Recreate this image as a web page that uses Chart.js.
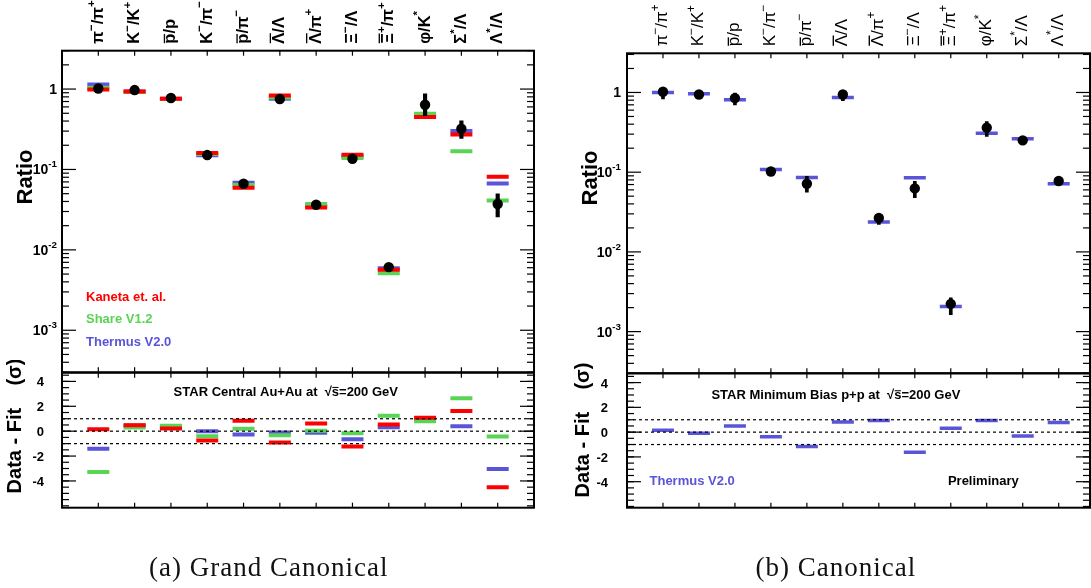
<!DOCTYPE html>
<html>
<head>
<meta charset="utf-8">
<script src="https://cdn.jsdelivr.net/npm/chart.js@4.4.1/dist/chart.umd.min.js"></script>
<style>
  body { margin: 0; background: #fff; width: 1091px; height: 588px; overflow: hidden; position: relative; }
  canvas { position: absolute; }
</style>
</head>
<body>
<canvas id="gcTop"></canvas>
<canvas id="gcDev"></canvas>
<canvas id="cTop"></canvas>
<canvas id="cDev"></canvas>
<script>
// particle ratios, ROOT-style markup: ^{..} superscript, #bar{..} overline
const categories = ['π^{−}/π^{+}', 'K^{−}/K^{+}', '#bar{p}/p', 'K^{−}/π^{−}', '#bar{p}/π^{−}', '#bar{Λ}/Λ',
  '#bar{Λ}/π^{+}', 'Ξ^{−}/Λ', '#bar{Ξ}^{+}/π^{+}', 'φ/K^{*}', 'Σ^{*}/Λ', 'Λ^{*}/Λ'];

// (a) Grand canonical, STAR central Au+Au
const gcData = [1.017, 0.972, 0.773, 0.151, 0.0664, 0.751, 0.0364, 0.136, 0.0061, 0.638, 0.321, 0.0372];
const gcErrLow = [0.97, 0.93, 0.74, 0.145, 0.063, 0.72, 0.034, 0.130, 0.0058, 0.466, 0.243, 0.0256];
const gcErrHigh = [1.06, 1.01, 0.81, 0.158, 0.070, 0.78, 0.039, 0.143, 0.0064, 0.874, 0.404, 0.0496];
const gcKaneta = [0.986, 0.934, 0.757, 0.160, 0.0591, 0.833, 0.0337, 0.152, 0.00566, 0.449, 0.272, 0.0813];
const gcShare = [1.038, 0.920, 0.750, 0.156, 0.0641, 0.786, 0.0371, 0.139, 0.0051, 0.493, 0.168, 0.0411];
const gcThermus = [1.14, 0.930, 0.755, 0.150, 0.0683, 0.757, 0.0357, 0.145, 0.0059, 0.470, 0.300, 0.0670];
const gcKanetaDev = [0.16, 0.48, 0.21, -0.75, 0.83, -0.90, 0.61, -1.23, 0.53, 1.07, 1.63, -4.50];
const gcShareDev = [-3.28, 0.29, 0.43, -0.40, 0.19, -0.32, 0.03, -0.16, 1.25, 0.80, 2.64, -0.43];
const gcThermusDev = [-1.41, 0.45, 0.30, 0.00, -0.27, -0.10, -0.13, -0.64, 0.32, 1.00, 0.40, -3.04];

// (b) Canonical, STAR minimum bias p+p
const cData = [1.02, 0.944, 0.85, 0.102, 0.0717, 0.944, 0.0266, 0.0626, 0.00223, 0.362, 0.251, 0.0776];
const cErrLow = [0.83, 0.90, 0.70, 0.095, 0.056, 0.79, 0.0221, 0.048, 0.00163, 0.28, 0.24, 0.072];
const cErrHigh = [1.12, 0.99, 0.98, 0.110, 0.089, 1.05, 0.0296, 0.077, 0.00266, 0.43, 0.262, 0.083];
const cThermus = [1.00, 0.963, 0.81, 0.108, 0.0858, 0.866, 0.0237, 0.0852, 0.00206, 0.307, 0.263, 0.0714];
const cThermusDev = [0.16, -0.08, 0.49, -0.38, -1.16, 0.81, 0.94, -1.62, 0.32, 0.94, -0.32, 0.78];

// axes
const logMajor = [1e-3, 1e-2, 1e-1, 1];
const logLabels = ['10^{-3}', '10^{-2}', '10^{-1}', '1'];
const devMajor = [-4, -2, 0, 2, 4];
const devLabels = ['-4', '-2', '0', '2', '4'];
const devBands = [1, 0, -1];

const FONT = '"Liberation Sans", Arial, Helvetica, sans-serif';
const RED = '#ff0000', GREEN = '#59d454', BLUE = '#5954d8';
const positions = categories.map((c, i) => i + 1);

const logMinor = [];
for (let d = -4; d <= 0; d++) {
  for (let k = 2; k <= 9; k++) logMinor.push(k * Math.pow(10, d));
}
const devMinor = [];
for (let v = -6; v <= 4.5; v += 0.5) devMinor.push(v);

function parseRich(str) {
  const segs = [];
  let buf = '';
  let i = 0;
  const flush = () => { if (buf) { segs.push({ t: buf }); buf = ''; } };
  while (i < str.length) {
    if (str.startsWith('#bar{', i)) {
      flush();
      const j = str.indexOf('}', i);
      segs.push({ t: str.slice(i + 5, j), bar: true });
      i = j + 1;
    } else if (str.startsWith('^{', i)) {
      flush();
      const j = str.indexOf('}', i);
      segs.push({ t: str.slice(i + 2, j), sup: true });
      i = j + 1;
    } else {
      buf += str[i];
      i++;
    }
  }
  flush();
  return segs;
}

function drawRich(ctx, str, x, y, o) {
  const segs = parseRich(str);
  const family = o.family || FONT;
  const weight = o.weight || 'normal';
  const supSize = o.size * 0.7;
  const font = s => weight + ' ' + (s.sup ? supSize : o.size) + 'px ' + family;
  ctx.save();
  ctx.letterSpacing = o.spacing || '0px';
  let w = 0;
  segs.forEach(s => { ctx.font = font(s); s.w = ctx.measureText(s.t).width; w += s.w; });
  ctx.translate(x, y);
  if (o.rotate) ctx.rotate(-Math.PI / 2);
  let cx = o.align === 'right' ? -w : o.align === 'center' ? -w / 2 : 0;
  ctx.fillStyle = ctx.strokeStyle = o.color || '#000';
  ctx.textAlign = 'left';
  ctx.textBaseline = 'alphabetic';
  segs.forEach(s => {
    ctx.font = font(s);
    const dy = s.sup ? -o.size * (o.raise || 0.45) : 0;
    ctx.fillText(s.t, cx, dy);
    if (s.bar) {
      const m = ctx.measureText(s.t);
      const by = dy - m.actualBoundingBoxAscent - o.size * 0.12;
      ctx.lineWidth = Math.max(1, o.size * 0.08);
      ctx.beginPath();
      ctx.moveTo(cx + 0.5, by);
      ctx.lineTo(cx + s.w - 0.5, by);
      ctx.stroke();
    }
    cx += s.w;
  });
  ctx.restore();
}

// frame, inward ticks, tick labels and texts drawn in ROOT fashion
const rootFrame = {
  id: 'rootFrame',
  afterDraw(chart, args, opts) {
    const { ctx, chartArea: a, scales: { x, y } } = chart;
    const seg = (x1, y1, x2, y2) => { ctx.beginPath(); ctx.moveTo(x1, y1); ctx.lineTo(x2, y2); ctx.stroke(); };
    ctx.save();
    ctx.strokeStyle = '#000';
    ctx.lineWidth = 1.2;
    const yTick = (v, len) => {
      if (v < y.min || v > y.max) return;
      const py = y.getPixelForValue(v);
      seg(a.left, py, a.left + len, py);
      seg(a.right, py, a.right - len, py);
    };
    opts.yMinor.forEach(v => yTick(v, 7));
    opts.yMajor.forEach(v => yTick(v, 14));
    positions.forEach(v => {
      const px = x.getPixelForValue(v);
      seg(px, a.top, px, a.top + 5);
      seg(px, a.bottom, px, a.bottom - 5);
    });
    ctx.lineWidth = 2;
    ctx.strokeRect(a.left, a.top, a.right - a.left, a.bottom - a.top);
    ctx.restore();

    opts.yMajor.forEach((v, i) => {
      const py = y.getPixelForValue(v);
      drawRich(ctx, opts.yLabels[i], a.left - opts.labelGap, py + 5, { size: opts.labelSize, weight: 'bold', align: 'right', raise: 0.5 });
    });
    const t = opts.title;
    drawRich(ctx, t.text, t.x, t.y, { size: t.size, weight: 'bold', align: 'center', rotate: true });
    if (opts.categoryLabels) {
      const c = opts.categoryLabels;
      categories.forEach((label, i) => {
        const px = x.getPixelForValue(positions[i]);
        drawRich(ctx, label, px + 4.5, a.top - 7, { size: c.size, weight: c.weight, rotate: true, raise: 0.5 });
      });
    }
    (opts.notes || []).forEach(n => drawRich(ctx, n.text, n.x, n.y, n));
  }
};

function points(values) {
  return values.map((v, i) => ({ x: positions[i], y: v }));
}

function modelSet(values, color, order, width) {
  return {
    type: 'scatter', data: points(values), order,
    pointStyle: 'line', pointRadius: 11, pointHoverRadius: 11,
    borderWidth: width, borderColor: color, backgroundColor: color,
  };
}

function ratioSets(data, lo, hi, models, barWidth) {
  const sets = [
    { type: 'scatter', data: points(data), order: 0, pointRadius: 5.2, backgroundColor: '#000', borderWidth: 0 },
    { type: 'bar', data: lo.map((v, i) => ({ x: positions[i], y: [v, hi[i]] })), order: 1, backgroundColor: '#000', barThickness: barWidth },
  ];
  models.forEach((m, k) => sets.push(modelSet(m.values, m.color, 2 + k, m.width)));
  return sets;
}

function devSets(models, xMax) {
  const sets = devBands.map(v => ({
    type: 'line', data: [{ x: 0, y: v }, { x: xMax, y: v }], order: 0,
    borderColor: '#000', borderWidth: 1.2, borderDash: [3, 3], pointRadius: 0, fill: false,
  }));
  models.forEach((m, k) => sets.push(modelSet(m.values, m.color, 2 + k, m.width)));
  return sets;
}

function makeChart(id, box, padding, xMax, yScale, datasets, frame) {
  const cv = document.getElementById(id);
  cv.width = box.w;
  cv.height = box.h;
  cv.style.left = box.x + 'px';
  cv.style.top = box.y + 'px';
  return new Chart(cv, {
    type: 'scatter',
    data: { datasets },
    options: {
      responsive: false,
      animation: false,
      events: [],
      layout: { padding, autoPadding: false },
      plugins: { legend: { display: false }, tooltip: { enabled: false }, rootFrame: frame },
      scales: {
        x: { type: 'linear', min: 0, max: xMax, offset: false, display: false },
        y: Object.assign({ display: false, offset: false }, yScale),
      },
    },
    plugins: [rootFrame],
  });
}

const logScale = max => ({ type: 'logarithmic', min: 3e-4, max });
const serif = '"Liberation Serif", "Times New Roman", serif';

// (a) Grand canonical
makeChart('gcTop', { x: 0, y: 0, w: 545, h: 380 }, { left: 62, right: 11, top: 50.7, bottom: 7.7 }, 13, logScale(3),
  ratioSets(gcData, gcErrLow, gcErrHigh, [
    { values: gcKaneta, color: RED, width: 4 },
    { values: gcShare, color: GREEN, width: 4 },
    { values: gcThermus, color: BLUE, width: 4 },
  ], 3.5),
  {
    yMajor: logMajor, yMinor: logMinor, yLabels: logLabels, labelGap: 5, labelSize: 14,
    title: { text: 'Ratio', x: 32, y: 177, size: 22 },
    categoryLabels: { size: 16.5, weight: 'bold' },
    notes: [
      { text: 'Kaneta et. al.', x: 86, y: 300.7, size: 13, weight: 'bold', color: RED },
      { text: 'Share V1.2', x: 86, y: 323.3, size: 13, weight: 'bold', color: GREEN },
      { text: 'Thermus V2.0', x: 86, y: 345.7, size: 13, weight: 'bold', color: BLUE },
    ],
  });

makeChart('gcDev', { x: 0, y: 360, w: 545, h: 228 }, { left: 62, right: 11, top: 12.7, bottom: 80.3 }, 13,
  { type: 'linear', min: -6.15, max: 4.7 },
  devSets([
    { values: gcKanetaDev, color: RED, width: 4 },
    { values: gcShareDev, color: GREEN, width: 4 },
    { values: gcThermusDev, color: BLUE, width: 4 },
  ], 13),
  {
    yMajor: devMajor, yMinor: devMinor, yLabels: devLabels, labelGap: 18, labelSize: 13,
    title: { text: 'Data - Fit    (σ)', x: 21, y: 66, size: 20 },
    notes: [
      { text: 'STAR Central Au+Au at  √#bar{s}=200 GeV', x: 173.6, y: 36, size: 13, weight: 'bold' },
      { text: '(a) Grand Canonical', x: 149, y: 216, size: 27, family: serif, color: '#111', spacing: '1px' },
    ],
  });

// (b) Canonical
makeChart('cTop', { x: 545, y: 0, w: 546, h: 380 }, { left: 82, right: 1, top: 53.3, bottom: 6.7 }, 12.87, logScale(3.1),
  ratioSets(cData, cErrLow, cErrHigh, [
    { values: cThermus, color: BLUE, width: 3.5 },
  ], 3),
  {
    yMajor: logMajor, yMinor: logMinor, yLabels: logLabels, labelGap: 6, labelSize: 14,
    title: { text: 'Ratio', x: 52, y: 178, size: 22 },
    categoryLabels: { size: 17, weight: 'normal' },
  });

makeChart('cDev', { x: 545, y: 360, w: 546, h: 228 }, { left: 82, right: 1, top: 13.3, bottom: 80.3 }, 12.87,
  { type: 'linear', min: -6.1, max: 4.75 },
  devSets([
    { values: cThermusDev, color: BLUE, width: 3.5 },
  ], 12.87),
  {
    yMajor: devMajor, yMinor: devMinor, yLabels: devLabels, labelGap: 19, labelSize: 13,
    title: { text: 'Data - Fit    (σ)', x: 43.5, y: 70, size: 20 },
    notes: [
      { text: 'STAR Minimum Bias p+p at  √#bar{s}=200 GeV', x: 166.4, y: 39.3, size: 13, weight: 'bold' },
      { text: 'Thermus V2.0', x: 104.5, y: 125, size: 13, weight: 'bold', color: BLUE },
      { text: 'Preliminary', x: 402.9, y: 125, size: 13, weight: 'bold' },
      { text: '(b) Canonical', x: 210.6, y: 216, size: 27, family: serif, color: '#111', spacing: '1px' },
    ],
  });
</script>
</body>
</html>
